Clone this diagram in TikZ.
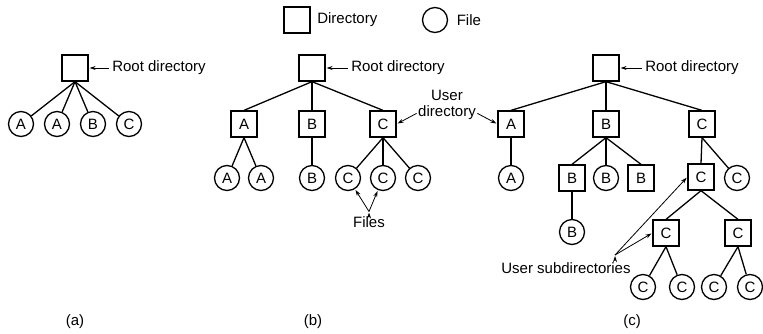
\documentclass[tikz,border=0pt]{standalone}
\usepackage{fontspec}
\setmainfont{Liberation Sans}
\usepackage{tikz}
\usetikzlibrary{arrows.meta, positioning}

\tikzset{
  dir/.style={draw, rectangle, minimum size=26pt, inner sep=0pt, line width=1.3pt},
  file/.style={draw, circle, minimum size=25pt, inner sep=0pt, line width=1.3pt},
  label/.style={inner sep=0pt},
  pointer/.style={-{Stealth[length=6pt,width=4pt]}, line width=0.8pt, shorten >=1pt},
}

\begin{document}
\begin{tikzpicture}[x=1pt, y=-1pt, font=\fontsize{15}{16}\selectfont, line width=1.3pt]
\useasboundingbox (0,0) rectangle (763,333);

% legend
\node[dir] (ld) at (297,20) {};
\node[label, right=6pt of ld] {Directory};
\node[file] (lf) at (435,20) {};
\node[label, right=8pt of lf] {File};

% (a)
\node[dir] (a0) at (75,68) {};
\node[file] (a1) at (21,124) {A};
\node[file] (a2) at (57,124) {A};
\node[file] (a3) at (93,124) {B};
\node[file] (a4) at (129,124) {C};
\node[label, right=23pt of a0] (ar) {Root directory};
\draw (a0.south) edge (a1) edge (a2) edge (a3) edge (a4);
\draw[pointer] ([xshift=-3pt]ar.west) -- (a0.east);
\node (ca) at (75,322) {(a)};

% (b)
\node[dir] (b0) at (312,68) {};
\node[dir] (b1) at (244,124) {A};
\node[dir] (b2) at (312,124) {B};
\node[dir] (b3) at (383,124) {C};
\node[file] (b4) at (227,178) {A};
\node[file] (b5) at (261,178) {A};
\node[file] (b6) at (312,178) {B};
\node[file] (b7) at (348,178) {C};
\node[file] (b8) at (383,178) {C};
\node[file] (b9) at (418,178) {C};
\node[label, right=25pt of b0] (br) {Root directory};
\draw (b0.south) edge (b1.north) edge (b2.north) edge (b3.north)
      (b1.south) edge (b4) edge (b5)
      (b2.south) edge (b6)
      (b3.south) edge (b7) edge (b8) edge (b9);
\draw[pointer] ([xshift=-3pt]br.west) -- (b0.east);
\node (files) at (369,222) {Files};
\draw[pointer] ([yshift=1pt]files.north) edge (b7) edge (b8);
\node (cb) at (313,322) {(b)};

% (c)
\node[dir] (c0) at (606,68) {};
\node[dir] (c1) at (511,124) {A};
\node[dir] (c2) at (606,124) {B};
\node[dir] (c3) at (702,124) {C};
\node[file] (c4) at (511,178) {A};
\node[dir] (c5) at (572,178) {B};
\node[file] (c6) at (606,178) {B};
\node[dir] (c7) at (641,178) {B};
\node[dir] (c8) at (701,177) {C};
\node[file] (c9) at (737,178) {C};
\node[file] (c10) at (572,232) {B};
\node[dir] (c11) at (666,233) {C};
\node[dir] (c12) at (738,233) {C};
\node[file] (c13) at (643,287) {C};
\node[file] (c14) at (682,287) {C};
\node[file] (c15) at (714,287) {C};
\node[file] (c16) at (750,287) {C};
\node[label, right=25pt of c0] (cr) {Root directory};
\draw (c0.south) edge (c1.north) edge (c2.north) edge (c3.north)
      (c1.south) edge (c4)
      (c2.south) edge (c5.north) edge (c6) edge (c7.north)
      (c3.south) edge (c8.north) edge (c9)
      (c5.south) edge (c10)
      (c8.south) edge (c11.north) edge (c12.north)
      (c11.south) edge (c13) edge (c14)
      (c12.south) edge (c15) edge (c16);
\draw[pointer] ([xshift=-3pt]cr.west) -- (c0.east);
\node[label] (sub) at (566,268) {User subdirectories};
\coordinate (subtip) at (615,255);
\draw[pointer] (subtip) edge (c8.west) edge (c11.west);
\node (cc) at (632,322) {(c)};

% user directory
\node[label, align=center] (user) at (447,105) {User\\directory};
\draw[pointer] ([xshift=-1pt,yshift=7pt]user.south west) -- (b3.east);
\draw[pointer] ([xshift=1pt,yshift=7pt]user.south east) -- (c1.west);
\end{tikzpicture}
\end{document}
